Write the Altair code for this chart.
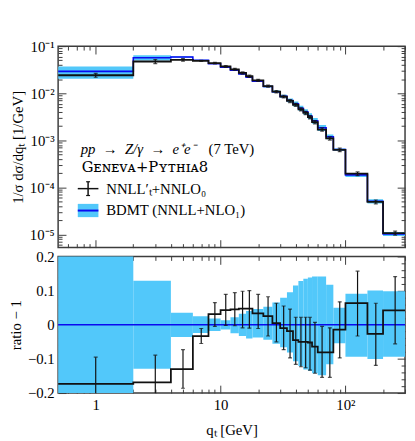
import altair as alt
import pandas as pd

# ---------------- data ----------------
edges = [0.5, 2, 4, 6, 8, 10, 12, 14, 16, 18, 22, 26, 30, 34, 38, 42, 46, 50, 54, 60, 70, 80, 100, 150, 200, 300]
centers = [1, 3, 5, 7, 9, 11, 13, 15, 17, 20, 24, 28, 32, 36, 40, 44, 48, 52, 57, 65, 75, 90, 125, 175, 250]
data_vals = [0.0241, 0.0472, 0.0512, 0.0487, 0.0436, 0.0371, 0.0323, 0.0270, 0.0230, 0.0187,
             0.0142, 0.0108, 0.0085, 0.0069, 0.0057, 0.00457, 0.00383, 0.00312, 0.00245, 0.0017,
             0.0011, 0.00063, 0.000197, 0.0000497, 0.0000108]
data_ratio = [-0.173, -0.169, -0.130, -0.033, 0.031, 0.043, 0.045, 0.047, 0.047, 0.033,
              0.025, 0.005, -0.010, -0.019, -0.045, -0.050, -0.050, -0.052, -0.064, -0.081,
              -0.081, -0.014, 0.063, -0.027, 0.042]
err_lo = [-0.251, -0.249, -0.186, -0.055, -0.005, -0.002, -0.003, -0.009, -0.010, -0.011,
          -0.033, -0.050, -0.073, -0.097, -0.116, -0.123, -0.126, -0.133, -0.142, -0.154,
          -0.154, -0.097, -0.033, -0.119, -0.056]
err_hi = [-0.095, -0.089, -0.073, -0.011, 0.065, 0.089, 0.094, 0.098, 0.100, 0.089,
          0.082, 0.063, 0.055, 0.046, 0.022, 0.022, 0.022, 0.022, 0.007, -0.005,
          -0.009, 0.067, 0.157, 0.063, 0.141]
band_lo = [-0.30, -0.129, -0.036, -0.024, -0.018, -0.014, -0.025, -0.033, -0.040, -0.037,
           -0.044, -0.056, -0.066, -0.081, -0.107, -0.121, -0.131, -0.135, -0.142, -0.148,
           -0.116, -0.054, -0.094, -0.100, -0.094]
band_hi = [0.27, 0.129, 0.035, 0.025, 0.018, 0.013, 0.022, 0.032, 0.040, 0.046,
           0.053, 0.065, 0.079, 0.095, 0.115, 0.128, 0.135, 0.138, 0.141, 0.141,
           0.117, 0.050, 0.091, 0.100, 0.098]

x_ticks = [0.6, 0.7, 0.8, 0.9] + [m * d for d in (1, 10) for m in range(1, 10)] + [100, 200, 300]
y_ticks_top = [m * 1e-6 for m in range(6, 10)] + [m * 10.0 ** e for e in range(-5, -1) for m in range(1, 10)] + [0.1]
y_ticks_bot = [round(-0.2 + 0.02 * i, 2) for i in range(21)]

# ---------------- tables ----------------
n = len(centers)
pred = [data_vals[i] / (1 + data_ratio[i]) for i in range(n)]
bins = pd.DataFrame({
    "x0": edges[:-1], "x1": edges[1:], "xc": centers,
    "pred": pred, "data": data_vals, "ratio": data_ratio,
    "b_lo": band_lo, "b_hi": band_hi, "e_lo": err_lo, "e_hi": err_hi,
    "tb_lo": [pred[i] * (1 + band_lo[i]) for i in range(n)],
    "tb_hi": [pred[i] * (1 + band_hi[i]) for i in range(n)],
    "te_lo": [pred[i] * (1 + err_lo[i]) for i in range(n)],
    "te_hi": [pred[i] * (1 + err_hi[i]) for i in range(n)],
})
step = pd.DataFrame({
    "x": edges,
    "pred": pred + [pred[-1]],
    "data": data_vals + [data_vals[-1]],
    "ratio": data_ratio + [data_ratio[-1]],
})
zero = pd.DataFrame({"z": [0.0]})

# ---------------- styles ----------------
FONT = "Liberation Serif"
FRAME = "#3c3c3c"
LB = "#52C8FA"
BLUE = "#0a0af0"
W, H1, H2 = 353, 205, 139

MAJ_LOG = "abs(log(datum.value)/LN10 - round(log(datum.value)/LN10)) < 0.01"
MAJ_LIN = "abs(datum.value*10 - round(datum.value*10)) < 0.01"

XS = alt.Scale(type="log", domain=[0.5, 300], nice=False)
YS_T = alt.Scale(type="log", domain=[5.3e-6, 0.1], nice=False)
YS_B = alt.Scale(type="linear", domain=[-0.2, 0.2], nice=False, zero=False)


def ax(orient, values, major, label_expr=None, title=None, label_padding=12, title_padding=4):
    kw = dict(orient=orient, values=values, domain=False, grid=False, ticks=True,
              tickSize={"condition": {"test": major, "value": -8}, "value": -4},
              tickColor=FRAME, tickWidth=1)
    if label_expr:
        kw.update(labels=True, labelExpr=label_expr, labelPadding=label_padding, labelFont=FONT,
                  labelFontSize=15, labelColor="black", labelOverlap=False, labelFlush=False)
    else:
        kw.update(labels=False, minExtent=0, maxExtent=0)
    if title:
        kw.update(title=title, titleFont=FONT, titleFontSize=15, titleFontWeight="normal",
                  titleColor="black", titlePadding=title_padding)
    else:
        kw.update(title=None)
    return alt.Axis(**kw)


ylab_top = "(" + MAJ_LOG + ") ? ('10' + ['\u2070','\u207b\u00b9','\u207b\u00b2','\u207b\u00b3','\u207b\u2074','\u207b\u2075','\u207b\u2076'][-round(log(datum.value)/LN10)]) : ''"
xlab_bot = "(" + MAJ_LOG + ") ? (['1','10','10\u00b2'][round(log(datum.value)/LN10)]) : ''"
ylab_bot = ("(" + MAJ_LIN + ") ? (datum.value < -0.15 ? '\u22120.2' : datum.value < -0.05 ? '\u22120.1' : "
            "datum.value < 0.05 ? '0' : datum.value < 0.15 ? '0.1' : '0.2') : ''")

# ---------------- top panel ----------------
band_t = alt.Chart(bins).mark_rect(color=LB, clip=True).encode(
    x=alt.X("x0:Q", scale=XS, axis=ax("bottom", x_ticks, MAJ_LOG)),
    x2="x1:Q",
    y=alt.Y("tb_lo:Q", scale=YS_T, axis=ax("left", y_ticks_top, MAJ_LOG, ylab_top,
                                          "1/\u03c3 d\u03c3/dq\u209c [1/GeV]")),
    y2="tb_hi:Q",
)
pred_t = alt.Chart(step).mark_line(interpolate="step-after", color=BLUE, strokeWidth=1.6, clip=True).encode(
    x=alt.X("x:Q", scale=XS, axis=ax("top", x_ticks, MAJ_LOG)),
    y=alt.Y("pred:Q", scale=YS_T, axis=ax("right", y_ticks_top, MAJ_LOG)),
)
data_t = alt.Chart(step).mark_line(interpolate="step-after", color="#111111", strokeWidth=1.8, clip=True).encode(
    x=alt.X("x:Q", scale=XS, axis=None),
    y=alt.Y("data:Q", scale=YS_T, axis=None),
)
err_t = alt.Chart(bins).mark_rule(color="#111111", strokeWidth=1.2, clip=True).encode(
    x=alt.X("xc:Q", scale=XS, axis=None),
    y=alt.Y("te_lo:Q", scale=YS_T, axis=None),
    y2="te_hi:Q",
)
cap_t1 = alt.Chart(bins).mark_tick(orient="horizontal", size=4, thickness=1.2, color="#111111", clip=True).encode(
    x=alt.X("xc:Q", scale=XS, axis=None), y=alt.Y("te_lo:Q", scale=YS_T, axis=None))
cap_t2 = alt.Chart(bins).mark_tick(orient="horizontal", size=4, thickness=1.2, color="#111111", clip=True).encode(
    x=alt.X("xc:Q", scale=XS, axis=None), y=alt.Y("te_hi:Q", scale=YS_T, axis=None))


def txt(s, x, y, style="normal", font=FONT):
    return alt.Chart(pd.DataFrame({"t": [s]})).mark_text(
        align="left", baseline="middle", font=font, fontSize=15, fontStyle=style, color="black"
    ).encode(x=alt.value(x), y=alt.value(y), text="t:N")


proc1 = txt("pp\u2002\u2192\u2002Z/\u03b3\u2002\u2192\u2002e\u207ae\u207b", 23, 105, "italic")
proc2 = txt("(7 TeV)", 153, 105)
gen = txt("G\u1d07\u0274\u1d07\u1d20\u1d00+P\u028f\u1d1b\u029c\u026a\u1d008", 24, 123, font="DejaVu Serif")
leg1 = txt("NNLL\u2032\u209c+NNLO\u2080", 49, 145)
leg2 = txt("BDMT (NNLL+NLO\u2081)", 49, 167)

one = pd.DataFrame({"a": [0]})
leg_h = alt.Chart(one).mark_rule(color="#111111", strokeWidth=1.5).encode(
    x=alt.value(20), x2=alt.value(41), y=alt.value(145))
leg_v = alt.Chart(one).mark_rule(color="#111111", strokeWidth=1.5).encode(
    x=alt.value(30.5), y=alt.value(138), y2=alt.value(152))
leg_c1 = alt.Chart(one).mark_rule(color="#111111", strokeWidth=1.2).encode(
    x=alt.value(28.5), x2=alt.value(32.5), y=alt.value(138))
leg_c2 = alt.Chart(one).mark_rule(color="#111111", strokeWidth=1.2).encode(
    x=alt.value(28.5), x2=alt.value(32.5), y=alt.value(152))
leg_r = alt.Chart(one).mark_rect(color=LB).encode(
    x=alt.value(20), x2=alt.value(41), y=alt.value(160.5), y2=alt.value(174))
leg_b = alt.Chart(one).mark_rule(color=BLUE, strokeWidth=2).encode(
    x=alt.value(20), x2=alt.value(41), y=alt.value(167.3))

top = alt.layer(
    band_t, pred_t, data_t, err_t, cap_t1, cap_t2,
    proc1, proc2, gen, leg_h, leg_v, leg_c1, leg_c2, leg_r, leg_b, leg1, leg2,
).resolve_axis(x="independent", y="independent").properties(width=W, height=H1)

# ---------------- bottom (ratio) panel ----------------
band_b = alt.Chart(bins).mark_rect(color=LB, clip=True).encode(
    x=alt.X("x0:Q", scale=XS, axis=ax("bottom", x_ticks, MAJ_LOG, xlab_bot, "q\u209c [GeV]",
                                       label_padding=13, title_padding=6)),
    x2="x1:Q",
    y=alt.Y("b_lo:Q", scale=YS_B, axis=ax("left", y_ticks_bot, MAJ_LIN, ylab_bot, "ratio \u2212 1")),
    y2="b_hi:Q",
)
zero_b = alt.Chart(zero).mark_rule(color=BLUE, strokeWidth=1.6).encode(
    y=alt.Y("z:Q", scale=YS_B, axis=ax("right", y_ticks_bot, MAJ_LIN)),
)
data_b = alt.Chart(step).mark_line(interpolate="step-after", color="#111111", strokeWidth=1.8, clip=True).encode(
    x=alt.X("x:Q", scale=XS, axis=ax("top", x_ticks, MAJ_LOG)),
    y=alt.Y("ratio:Q", scale=YS_B, axis=None),
)
err_b = alt.Chart(bins).mark_rule(color="#111111", strokeWidth=1.2, clip=True).encode(
    x=alt.X("xc:Q", scale=XS, axis=None),
    y=alt.Y("e_lo:Q", scale=YS_B, axis=None),
    y2="e_hi:Q",
)
cap_b1 = alt.Chart(bins).mark_tick(orient="horizontal", size=4, thickness=1.2, color="#111111", clip=True).encode(
    x=alt.X("xc:Q", scale=XS, axis=None), y=alt.Y("e_lo:Q", scale=YS_B, axis=None))
cap_b2 = alt.Chart(bins).mark_tick(orient="horizontal", size=4, thickness=1.2, color="#111111", clip=True).encode(
    x=alt.X("xc:Q", scale=XS, axis=None), y=alt.Y("e_hi:Q", scale=YS_B, axis=None))

bottom = alt.layer(
    band_b, zero_b, data_b, err_b, cap_b1, cap_b2
).resolve_axis(x="independent", y="independent").properties(width=W, height=H2)

chart = alt.vconcat(top, bottom, spacing=9, bounds="flush").properties(
    padding={"left": 0, "top": 27, "right": 0, "bottom": 0}
).configure_view(stroke=FRAME, strokeWidth=1.5)

chart.save("out.html", embed_options={"renderer": "svg", "actions": False})
